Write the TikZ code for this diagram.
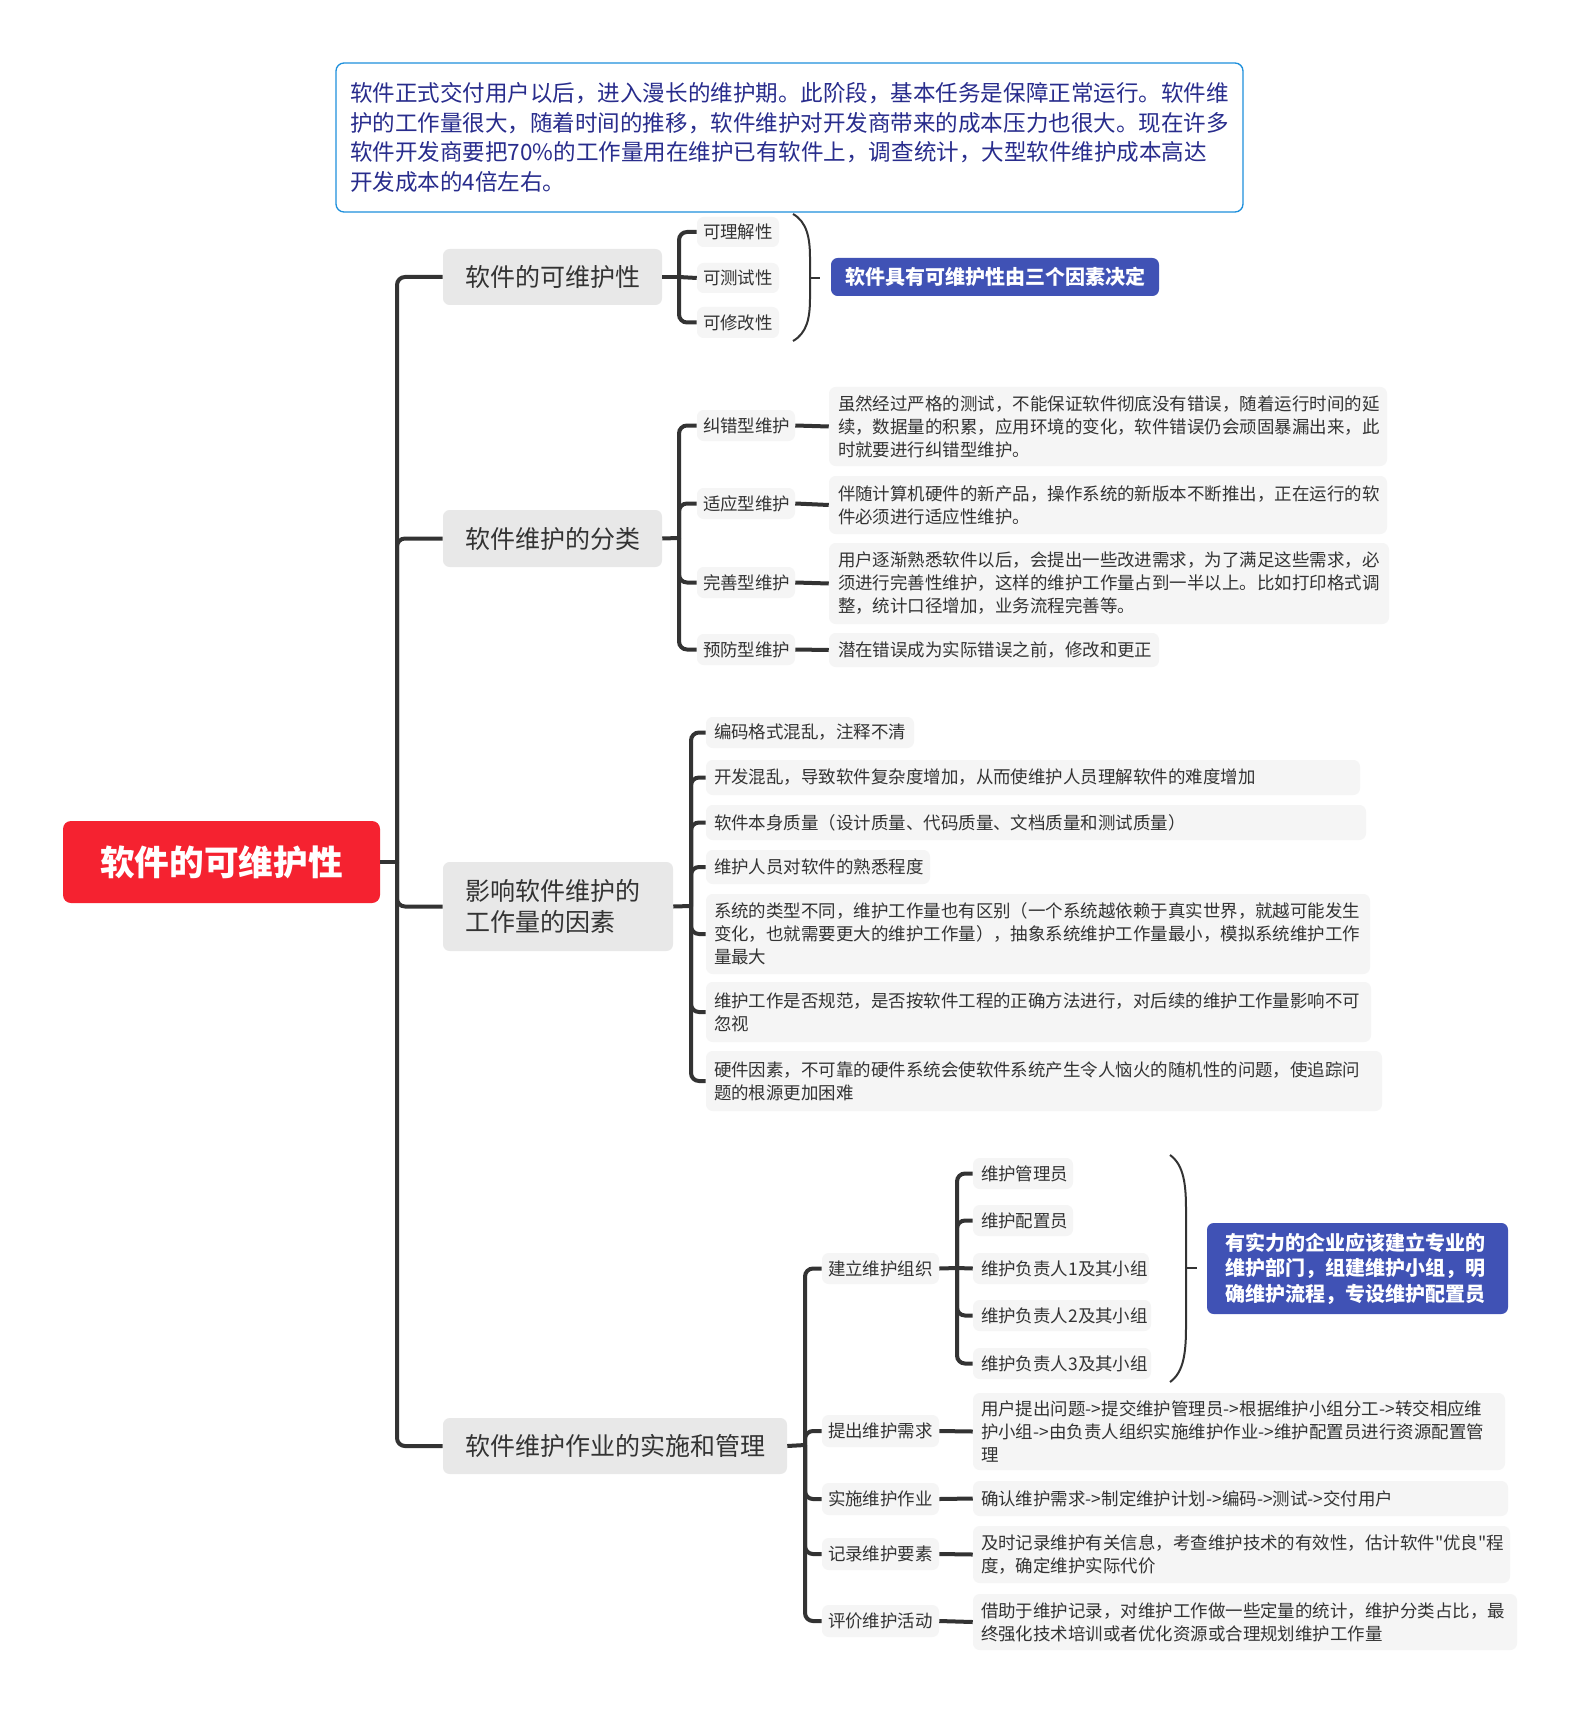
\documentclass[tikz,border=0pt]{standalone}
\usepackage{fontspec}
\setmainfont{Noto Sans CJK SC}[Ligatures=TeXOff]
\definecolor{rootred}{RGB}{245,34,48}
\definecolor{brgray}{RGB}{232,232,232}
\definecolor{leafgray}{RGB}{245,245,245}
\definecolor{sumblue}{RGB}{64,82,181}
\definecolor{topblue}{RGB}{30,144,220}
\definecolor{topnavy}{RGB}{40,44,140}
\definecolor{txt}{RGB}{51,51,51}
\definecolor{linegray}{RGB}{51,51,51}
\newcommand\mmbox[8]{%
 \pgfmathsetmacro\bxw{(#4-#2)*0.75}%
 \pgfmathsetmacro\bxh{(#5-#3)*0.75}%
 \pgfmathsetmacro\bxt{(#4-#2-2*#6)*0.75}%
 \pgfmathsetmacro\bxp{#6*0.75}%
 \node[#7, minimum width=\bxw pt, minimum height=\bxh pt, text width=\bxt pt, inner xsep=\bxp pt, inner ysep=0pt] (#1) at ({(#2+#4)/2},{(#3+#5)/2}) {#8};}
\tikzset{
 rootbox/.style={fill=rootred, rounded corners=6pt, text=white, align=center, font=\fontsize{26}{30}\selectfont\bfseries},
 branchbox/.style={fill=brgray, rounded corners=5pt, text=txt, align=left, font=\fontsize{18.75}{23.25}\selectfont},
 leafbox/.style={fill=leafgray, rounded corners=5pt, text=txt, align=left, font=\fontsize{13.1}{17.25}\selectfont},
 sumbox/.style={fill=sumblue, rounded corners=5pt, text=white, align=left, font=\fontsize{15}{19}\selectfont\bfseries},
 topbox/.style={draw=topblue, line width=1pt, rounded corners=6pt, text=topnavy, align=left, font=\fontsize{16.9}{22.2}\selectfont},
 conn/.style={draw=linegray, line width=3pt, rounded corners=6pt},
 paren/.style={draw=linegray, line width=1.5pt},
}
\begin{document}
\begin{tikzpicture}[x=0.75pt,y=-0.75pt]
\useasboundingbox[fill=white] (0,0) rectangle (1581,1715);
% top note
\mmbox{note}{336}{63}{1243}{212}{14}{topbox}{软件正式交付用户以后，进入漫长的维护期。此阶段，基本任务是保障正常运行。软件维\\护的工作量很大，随着时间的推移，软件维护对开发商带来的成本压力也很大。现在许多\\软件开发商要把70\%的工作量用在维护已有软件上，调查统计，大型软件维护成本高达\\开发成本的4倍左右。}
% root
\mmbox{root}{63}{821}{380}{903}{10}{rootbox}{软件的可维护性}
% branches
\mmbox{b1}{443}{249}{662}{305}{22}{branchbox}{软件的可维护性}
\mmbox{b2}{443}{510}{662}{567}{22}{branchbox}{软件维护的分类}
\mmbox{b3}{443}{862}{673}{951}{22}{branchbox}{影响软件维护的\\工作量的因素}
\mmbox{b4}{443}{1418}{787}{1474}{22}{branchbox}{软件维护作业的实施和管理}
% branch 1 children
\mmbox{k1}{697}{217}{779}{247}{6}{leafbox}{可理解性}
\mmbox{k2}{697}{263}{779}{293}{6}{leafbox}{可测试性}
\mmbox{k3}{697}{307}{779}{338}{6}{leafbox}{可修改性}
\mmbox{s1}{831}{258}{1159}{296}{14}{sumbox}{软件具有可维护性由三个因素决定}
% branch 2 children
\mmbox{t1}{697}{410}{795}{441}{6}{leafbox}{纠错型维护}
\mmbox{t2}{697}{488}{795}{519}{6}{leafbox}{适应型维护}
\mmbox{t3}{697}{567}{795}{598}{6}{leafbox}{完善型维护}
\mmbox{t4}{697}{634}{795}{665}{6}{leafbox}{预防型维护}
\mmbox{d1}{829}{387}{1387}{466}{9}{leafbox}{虽然经过严格的测试，不能保证软件彻底没有错误，随着运行时间的延\\续，数据量的积累，应用环境的变化，软件错误仍会顽固暴漏出来，此\\时就要进行纠错型维护。}
\mmbox{d2}{829}{476}{1387}{534}{9}{leafbox}{伴随计算机硬件的新产品，操作系统的新版本不断推出，正在运行的软\\件必须进行适应性维护。}
\mmbox{d3}{829}{543}{1389}{624}{9}{leafbox}{用户逐渐熟悉软件以后，会提出一些改进需求，为了满足这些需求，必\\须进行完善性维护，这样的维护工作量占到一半以上。比如打印格式调\\整，统计口径增加，业务流程完善等。}
\mmbox{d4}{829}{633}{1159}{667}{9}{leafbox}{潜在错误成为实际错误之前，修改和更正}
% branch 3 children
\mmbox{c1}{706}{717}{914}{748}{8}{leafbox}{编码格式混乱，注释不清}
\mmbox{c2}{706}{760}{1360}{795}{8}{leafbox}{开发混乱，导致软件复杂度增加，从而使维护人员理解软件的难度增加}
\mmbox{c3}{706}{805}{1366}{840}{8}{leafbox}{软件本身质量（设计质量、代码质量、文档质量和测试质量）}
\mmbox{c4}{706}{850}{930}{884}{8}{leafbox}{维护人员对软件的熟悉程度}
\mmbox{c5}{706}{894}{1370}{974}{8}{leafbox}{系统的类型不同，维护工作量也有区别（一个系统越依赖于真实世界，就越可能发生\\变化，也就需要更大的维护工作量），抽象系统维护工作量最小，模拟系统维护工作\\量最大}
\mmbox{c6}{706}{982}{1371}{1042}{8}{leafbox}{维护工作是否规范，是否按软件工程的正确方法进行，对后续的维护工作量影响不可\\忽视}
\mmbox{c7}{706}{1051}{1382}{1111}{8}{leafbox}{硬件因素，不可靠的硬件系统会使软件系统产生令人恼火的随机性的问题，使追踪问\\题的根源更加困难}
% branch 4 children
\mmbox{e1}{822}{1253}{939}{1284}{6}{leafbox}{建立维护组织}
\mmbox{e2}{822}{1415}{939}{1447}{6}{leafbox}{提出维护需求}
\mmbox{e3}{822}{1483}{939}{1515}{6}{leafbox}{实施维护作业}
\mmbox{e4}{822}{1538}{939}{1570}{6}{leafbox}{记录维护要素}
\mmbox{e5}{822}{1605}{939}{1637}{6}{leafbox}{评价维护活动}
\mmbox{f1}{973}{1158}{1073}{1189}{8}{leafbox}{维护管理员}
\mmbox{f2}{973}{1205}{1073}{1236}{8}{leafbox}{维护配置员}
\mmbox{f3}{973}{1253}{1149}{1284}{8}{leafbox}{维护负责人1及其小组}
\mmbox{f4}{973}{1300}{1151}{1331}{8}{leafbox}{维护负责人2及其小组}
\mmbox{f5}{973}{1348}{1151}{1379}{8}{leafbox}{维护负责人3及其小组}
\mmbox{s2}{1207}{1223}{1508}{1314}{18}{sumbox}{有实力的企业应该建立专业的\\维护部门，组建维护小组，明\\确维护流程，专设维护配置员}
\mmbox{g2}{973}{1393}{1505}{1470}{8}{leafbox}{用户提出问题->提交维护管理员->根据维护小组分工->转交相应维\\护小组->由负责人组织实施维护作业->维护配置员进行资源配置管\\理}
\mmbox{g3}{973}{1481}{1508}{1516}{8}{leafbox}{确认维护需求->制定维护计划->编码->测试->交付用户}
\mmbox{g4}{973}{1526}{1510}{1583}{8}{leafbox}{及时记录维护有关信息，考查维护技术的有效性，估计软件"优良"程\\度，确定维护实际代价}
\mmbox{g5}{973}{1594}{1517}{1650}{8}{leafbox}{借助于维护记录，对维护工作做一些定量的统计，维护分类占比，最\\终强化技术培训或者优化资源或合理规划维护工作量}
% trunk
\coordinate (J0) at (397,862);
\draw[conn] (root.east) -- (J0);
\foreach \b in {b1,b2,b3,b4} \draw[conn] (J0) |- (\b.west);
% branch 1
\coordinate (J1) at (679,277);
\draw[conn] (b1.east) -- (J1);
\draw[conn] (J1) |- (k1.west);
\draw[conn] (J1) -- (k2.west);
\draw[conn] (J1) |- (k3.west);
\draw[paren] (793,214) .. controls (807,222) and (810,238) .. (810,258) -- (810,298) .. controls (810,318) and (807,333) .. (793,341);
\coordinate (P1) at (820,278);
\draw[paren] (810,278) -- (P1);
% branch 2
\coordinate (J2) at (679,538);
\draw[conn] (b2.east) -- (J2);
\foreach \c in {t1,t2,t3,t4} \draw[conn] (J2) |- (\c.west);
\draw[conn] (t1.east) -- (d1.west);
\draw[conn] (t2.east) -- (d2.west);
\draw[conn] (t3.east) -- (d3.west);
\draw[conn] (t4.east) -- (d4.west);
% branch 3
\coordinate (J3) at (691,906);
\draw[conn] (b3.east) -- (J3);
\foreach \c in {c1,c2,c3,c4,c5,c6,c7} \draw[conn] (J3) |- (\c.west);
% branch 4
\coordinate (J4) at (805,1445);
\draw[conn] (b4.east) -- (J4);
\foreach \c in {e1,e2,e3,e4,e5} \draw[conn] (J4) |- (\c.west);
\draw[conn] (e2.east) -- (g2.west);
\draw[conn] (e3.east) -- (g3.west);
\draw[conn] (e4.east) -- (g4.west);
\draw[conn] (e5.east) -- (g5.west);
\coordinate (J5) at (957,1268);
\draw[conn] (e1.east) -- (J5);
\draw[conn] (J5) |- (f1.west);
\draw[conn] (J5) |- (f2.west);
\draw[conn] (J5) -- (f3.west);
\draw[conn] (J5) |- (f4.west);
\draw[conn] (J5) |- (f5.west);
\draw[paren] (1170,1155) .. controls (1184,1165) and (1186,1185) .. (1186,1210) -- (1186,1326) .. controls (1186,1352) and (1184,1372) .. (1170,1382);
\coordinate (P2) at (1197,1268);
\draw[paren] (1186,1268) -- (P2);
\end{tikzpicture}
\end{document}
